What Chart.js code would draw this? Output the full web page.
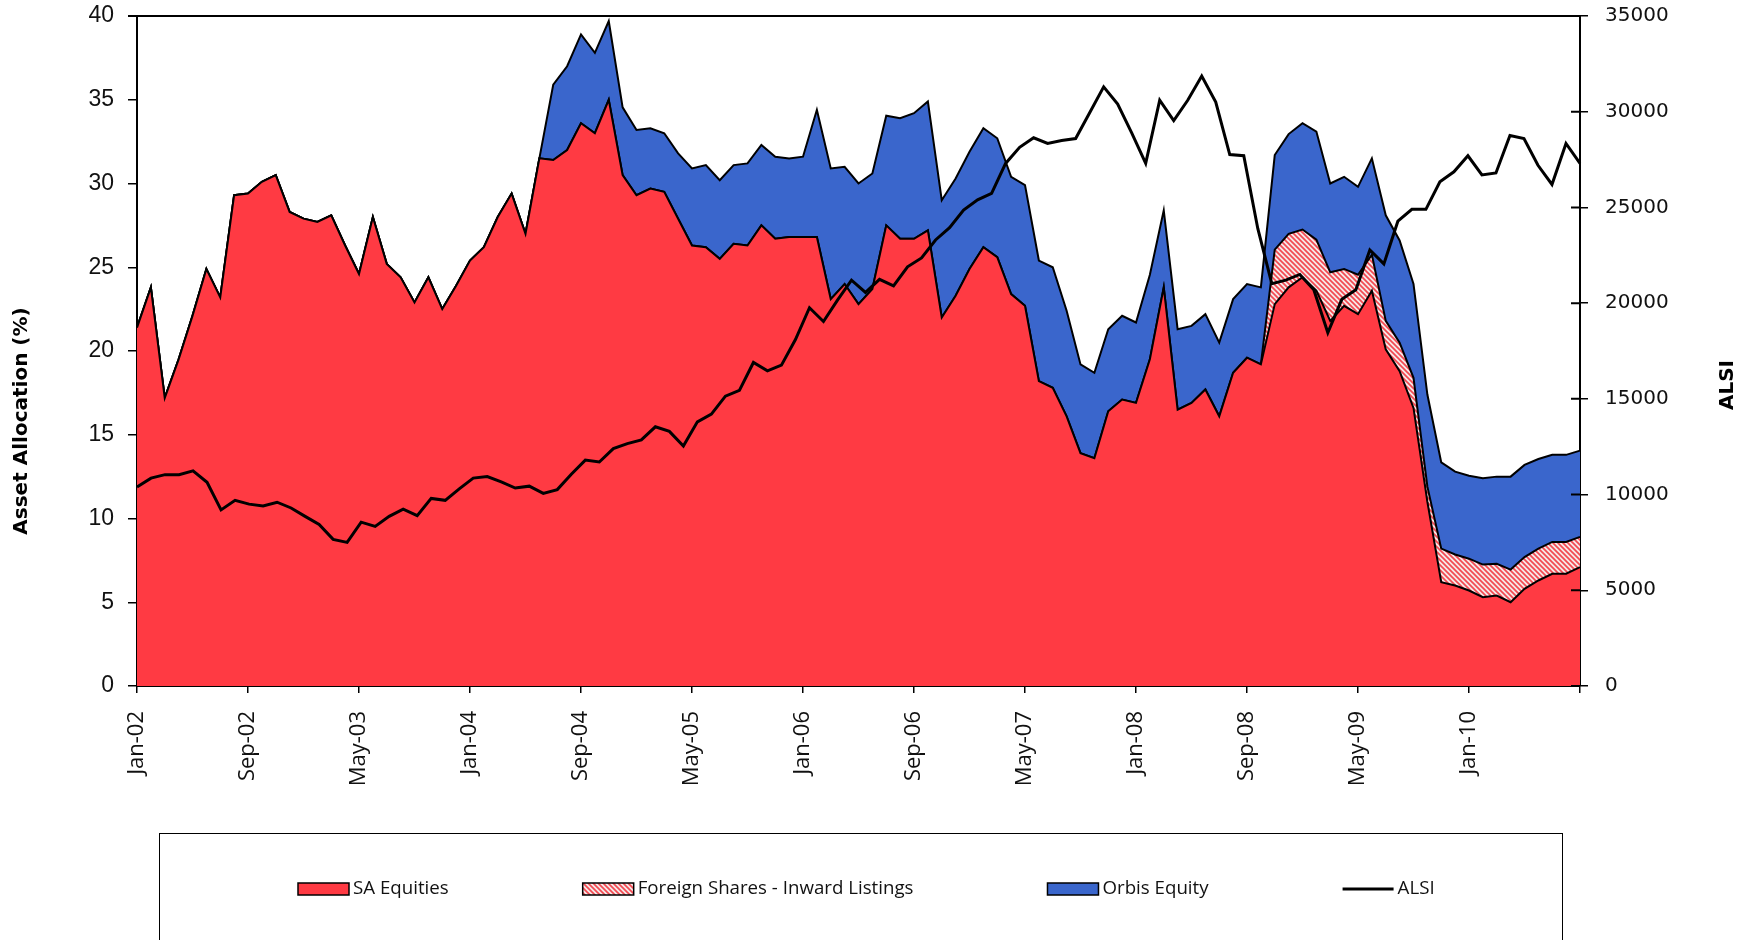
<!DOCTYPE html>
<html>
<head>
<meta charset="utf-8">
<title>Asset Allocation vs ALSI</title>
<script src="https://cdn.jsdelivr.net/npm/chart.js@4.4.1/dist/chart.umd.min.js"></script>
<style>
  html, body { margin: 0; padding: 0; background: #fff; }
  #wrap { width: 1754px; height: 940px; position: relative; }
</style>
</head>
<body>
<div id="wrap"><canvas id="chart"></canvas></div>
<script>
// ==================================================
// data
// ==================================================
const months = [
  'Jan-02','Feb-02','Mar-02','Apr-02','May-02','Jun-02','Jul-02','Aug-02','Sep-02','Oct-02','Nov-02','Dec-02',
  'Jan-03','Feb-03','Mar-03','Apr-03','May-03','Jun-03','Jul-03','Aug-03','Sep-03','Oct-03','Nov-03','Dec-03',
  'Jan-04','Feb-04','Mar-04','Apr-04','May-04','Jun-04','Jul-04','Aug-04','Sep-04','Oct-04','Nov-04','Dec-04',
  'Jan-05','Feb-05','Mar-05','Apr-05','May-05','Jun-05','Jul-05','Aug-05','Sep-05','Oct-05','Nov-05','Dec-05',
  'Jan-06','Feb-06','Mar-06','Apr-06','May-06','Jun-06','Jul-06','Aug-06','Sep-06','Oct-06','Nov-06','Dec-06',
  'Jan-07','Feb-07','Mar-07','Apr-07','May-07','Jun-07','Jul-07','Aug-07','Sep-07','Oct-07','Nov-07','Dec-07',
  'Jan-08','Feb-08','Mar-08','Apr-08','May-08','Jun-08','Jul-08','Aug-08','Sep-08','Oct-08','Nov-08','Dec-08',
  'Jan-09','Feb-09','Mar-09','Apr-09','May-09','Jun-09','Jul-09','Aug-09','Sep-09','Oct-09','Nov-09','Dec-09',
  'Jan-10','Feb-10','Mar-10','Apr-10','May-10','Jun-10','Jul-10','Aug-10','Sep-10'
];

// ALSI sits on its own (secondary) category axis, one point shorter
const alsiMonths = months.slice(0, 104);

const saEquities = [
  21.4, 23.8, 17.2, 19.5, 22.1, 24.9, 23.2, 29.3, 29.4, 30.1, 30.5, 28.3,
  27.9, 27.7, 28.1, 26.3, 24.6, 28.0, 25.2, 24.4, 22.9, 24.4, 22.5, 23.9,
  25.4, 26.2, 28.0, 29.4, 27.0, 31.5, 31.4, 32.0, 33.6, 33.0, 35.0, 30.5,
  29.3, 29.7, 29.5, 27.9, 26.3, 26.2, 25.5, 26.4, 26.3, 27.5, 26.7, 26.8,
  26.8, 26.8, 23.1, 24.0, 22.8, 23.7, 27.5, 26.7, 26.7, 27.2, 22.0, 23.3,
  24.9, 26.2, 25.6, 23.4, 22.7, 18.2, 17.8, 16.1, 13.9, 13.6, 16.4, 17.1,
  16.9, 19.5, 23.8, 16.5, 16.9, 17.7, 16.1, 18.7, 19.6, 19.2, 22.8, 23.8,
  24.4, 23.6, 21.8, 22.7, 22.2, 23.6, 20.1, 18.8, 16.6, 11.0, 6.2, 6.0,
  5.7, 5.3, 5.4, 5.0, 5.8, 6.3, 6.7, 6.7, 7.1
];

const foreignShares = [
  0, 0, 0, 0, 0, 0, 0, 0, 0, 0, 0, 0,
  0, 0, 0, 0, 0, 0, 0, 0, 0, 0, 0, 0,
  0, 0, 0, 0, 0, 0, 0, 0, 0, 0, 0, 0,
  0, 0, 0, 0, 0, 0, 0, 0, 0, 0, 0, 0,
  0, 0, 0, 0, 0, 0, 0, 0, 0, 0, 0, 0,
  0, 0, 0, 0, 0, 0, 0, 0, 0, 0, 0, 0,
  0, 0, 0, 0, 0, 0, 0, 0, 0, 0, 3.25, 3.2,
  2.85, 3.05, 2.9, 2.2, 2.35, 2.15, 1.7, 1.7, 1.8, 0.9, 2.0, 1.85,
  1.9, 1.95, 1.9, 1.95, 1.9, 1.9, 1.9, 1.9, 1.8
];

const orbisEquity = [
  0, 0, 0, 0, 0, 0, 0, 0, 0, 0, 0, 0,
  0, 0, 0, 0, 0, 0, 0, 0, 0, 0, 0, 0,
  0, 0, 0, 0, 0, 0, 4.5, 5.0, 5.3, 4.8, 4.7, 4.05,
  3.9, 3.6, 3.5, 3.9, 4.6, 4.9, 4.7, 4.7, 4.9, 4.8, 4.9, 4.7,
  4.8, 7.6, 7.8, 7.0, 7.2, 6.9, 6.55, 7.2, 7.5, 7.7, 7.0, 7.0,
  7.0, 7.1, 7.1, 7.0, 7.2, 7.2, 7.2, 6.3, 5.3, 5.1, 4.9, 5.0,
  4.8, 5.05, 4.6, 4.8, 4.6, 4.5, 4.4, 4.4, 4.4, 4.6, 5.65, 5.95,
  6.35, 6.45, 5.3, 5.5, 5.25, 5.75, 6.3, 6.1, 5.6, 5.5, 5.15, 4.95,
  4.95, 5.15, 5.2, 5.55, 5.5, 5.35, 5.2, 5.2, 5.15
];

const alsi = [
  10400, 10860, 11040, 11040, 11240, 10640, 9200, 9700, 9500, 9400, 9600, 9300,
  8860, 8440, 7660, 7500, 8560, 8340, 8860, 9240, 8900, 9800, 9700, 10300,
  10860, 10940, 10660, 10340, 10440, 10060, 10260, 11060, 11800, 11700, 12400, 12660,
  12860, 13540, 13300, 12540, 13800, 14200, 15140, 15440, 16900, 16460, 16760, 18100,
  19760, 19040, 20160, 21200, 20560, 21240, 20900, 21900, 22360, 23300, 23940, 24860,
  25400, 25740, 27300, 28140, 28640, 28340, 28500, 28600, 29950, 31300, 30400, 28900,
  27300, 30600, 29540, 30600, 31860, 30500, 27760, 27700, 23900, 21020, 21200, 21500,
  20700, 18450, 20200, 20700, 22780, 22050, 24280, 24900, 24900, 26340, 26860, 27700,
  26700, 26800, 28760, 28600, 27200, 26200, 28340, 27300
];

const RED = '#ff3a43';
const BLUE = '#3a66cc';

// red / pale diagonal hatch for the inward listings
function makeHatch() {
  const size = 5;
  const c = document.createElement('canvas');
  c.width = size; c.height = size;
  const g = c.getContext('2d');
  g.fillStyle = '#f6e8e8';
  g.fillRect(0, 0, size, size);
  g.strokeStyle = '#f24a52';
  g.lineWidth = 1.7;
  g.beginPath();
  g.moveTo(-size, -size); g.lineTo(size * 2, size * 2);
  g.moveTo(-size, 0); g.lineTo(size, size * 2);
  g.moveTo(0, -size); g.lineTo(size * 2, size);
  g.stroke();
  return g.createPattern(c, 'repeat');
}
const HATCH = makeHatch();

// frame, axis titles and the boxed legend
const extrasPlugin = {
  id: 'extras',
  afterDraw(chart) {
    const { ctx, chartArea: a } = chart;
    ctx.save();

    // top frame line + inward ticks of the right axis
    ctx.strokeStyle = '#000';
    ctx.lineWidth = 2;
    ctx.beginPath();
    ctx.moveTo(a.left - 9, a.top);
    ctx.lineTo(a.right, a.top);
    const y2 = chart.scales.y2;
    y2.ticks.forEach(t => {
      const y = y2.getPixelForValue(t.value);
      ctx.moveTo(a.right - 9, y);
      ctx.lineTo(a.right, y);
    });
    ctx.stroke();

    // axis titles
    ctx.fillStyle = '#000';
    ctx.font = 'bold 20px "DejaVu Sans"';
    ctx.textAlign = 'center';
    ctx.textBaseline = 'middle';
    ctx.save();
    ctx.translate(22, 421);
    ctx.rotate(-Math.PI / 2);
    ctx.fillText('Asset Allocation (%)', 0, 0);
    ctx.restore();
    ctx.save();
    ctx.translate(1728, 385);
    ctx.rotate(-Math.PI / 2);
    ctx.fillText('ALSI', 0, 0);
    ctx.restore();

    // legend box
    ctx.lineWidth = 1;
    ctx.strokeRect(159.5, 833.5, 1403, 120);
    const ds = chart.data.datasets;
    const items = [ds[1], ds[2], ds[3], ds[0]];
    const ly = 889;
    let x = 298;
    ctx.font = '18.7px "Open Sans"';
    ctx.textAlign = 'left';
    items.forEach(d => {
      if (d.type === 'line' && d.fill === false) {
        ctx.strokeStyle = '#000';
        ctx.lineWidth = 3;
        ctx.beginPath();
        ctx.moveTo(x, ly);
        ctx.lineTo(x + 51, ly);
        ctx.stroke();
      } else {
        ctx.fillStyle = d.backgroundColor;
        ctx.fillRect(x, ly - 6, 51, 12);
        ctx.strokeStyle = '#000';
        ctx.lineWidth = 1.5;
        ctx.strokeRect(x, ly - 6, 51, 12);
      }
      ctx.fillStyle = '#111';
      ctx.fillText(d.label, x + 55, ly);
      x += 55 + ctx.measureText(d.label).width + 134;
    });

    ctx.restore();
  }
};

const areaStyle = {
  type: 'line',
  borderColor: '#000',
  borderWidth: 2,
  pointRadius: 0,
  tension: 0,
  yAxisID: 'y',
  xAxisID: 'x'
};

// pin the plot box: no extra room reserved for half-height edge labels
function fixYAxis(width) {
  return s => {
    s.width = width;
    s.paddingTop = 0;
    s.paddingBottom = 0;
  };
}

new Chart(document.getElementById('chart'), {
  data: {
    labels: months,
    datasets: [
      {
        type: 'line',
        label: 'ALSI',
        data: alsi,
        borderColor: '#000',
        borderWidth: 3,
        pointRadius: 0,
        tension: 0,
        fill: false,
        yAxisID: 'y2',
        xAxisID: 'x2'
      },
      { ...areaStyle, label: 'SA Equities', data: saEquities, backgroundColor: RED, fill: 'origin' },
      { ...areaStyle, label: 'Foreign Shares - Inward Listings', data: foreignShares, backgroundColor: HATCH, fill: '-1' },
      { ...areaStyle, label: 'Orbis Equity', data: orbisEquity, backgroundColor: BLUE, fill: '-1' }
    ]
  },
  options: {
    responsive: true,
    maintainAspectRatio: false,
    animation: false,
    layout: { padding: { top: 16, left: 0, right: 0, bottom: 0 } },
    plugins: {
      legend: { display: false },
      tooltip: { enabled: false }
    },
    scales: {
      x: {
        type: 'category',
        offset: false,
        afterBuildTicks: s => { s.ticks = s.ticks.filter(t => t.value % 8 === 0); },
        afterFit: s => { s.height = 254; },
        grid: { drawOnChartArea: false, drawTicks: true, tickLength: 7, color: '#000', lineWidth: 1.5 },
        border: { display: true, color: '#000', width: 2 },
        ticks: {
          autoSkip: false,
          maxRotation: 90,
          minRotation: 90,
          padding: 18,
          color: '#111',
          font: { family: '"Open Sans"', size: 22 },
          callback(value) { return value < 104 ? this.getLabelForValue(value) : ''; }
        }
      },
      x2: {
        type: 'category',
        labels: alsiMonths,
        offset: false,
        display: false
      },
      y: {
        position: 'left',
        stacked: true,
        min: 0,
        max: 40,
        afterFit: fixYAxis(137),
        grid: { drawOnChartArea: false, drawTicks: true, tickLength: 9, color: '#000', lineWidth: 1.5 },
        border: { display: true, color: '#000', width: 2 },
        ticks: {
          stepSize: 5,
          padding: 14,
          color: '#111',
          font: { family: '"Liberation Sans"', size: 23 }
        }
      },
      y2: {
        position: 'right',
        min: 0,
        max: 35000,
        afterFit: fixYAxis(174),
        grid: { drawOnChartArea: false, drawTicks: true, tickLength: 8, color: '#000', lineWidth: 1.5 },
        border: { display: true, color: '#000', width: 2 },
        ticks: {
          stepSize: 5000,
          padding: 17,
          color: '#111',
          font: { family: '"DejaVu Sans"', size: 20 },
          callback: v => String(v)
        }
      }
    }
  },
  plugins: [extrasPlugin]
});
</script>
</body>
</html>
